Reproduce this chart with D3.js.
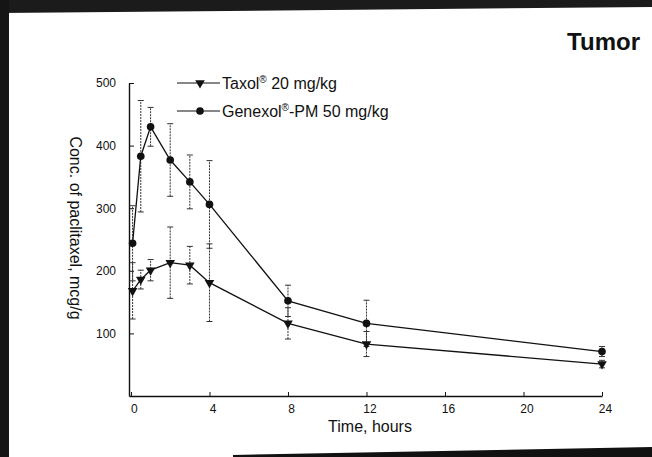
<!DOCTYPE html>
<html>
<head>
<meta charset="utf-8">
<script src="https://cdn.jsdelivr.net/npm/d3@7"></script>
<style>
  html, body { margin: 0; padding: 0; background: #fff; }
  svg { display: block; font-family: "Liberation Sans", Arial, sans-serif; }
</style>
</head>
<body>
<div id="chart"></div>
<script>
const w = 652;
const h = 457;

// sampling times (hours) and mean / SD of paclitaxel in tumor (mcg/g)
const times = [0.083, 0.5, 1, 2, 3, 4, 8, 12, 24];
const taxolMean = [168, 186, 201, 213, 209, 181, 116, 83, 51];
const taxolSD = [45, 15, 17, 57, 30, 62, 25, 20, 6];
const genexolMean = [244, 383, 430, 377, 342, 306, 152, 116, 71];
const genexolSD = [60, 89, 31, 58, 43, 70, 25, 37, 8];

const xTicks = [0, 4, 8, 12, 16, 20, 24];
const yTicks = [100, 200, 300, 400, 500];

const seriesNames = ["Taxol", "Genexol"];
const seriesDose = [" 20 mg/kg", "-PM 50 mg/kg"];

const svg = d3.select("#chart").append("svg").attr("width", w).attr("height", h);

//scanned page edges
svg.append("rect").attr("width", w).attr("height", h).attr("fill", "#fff");
svg.append("path").attr("d", "M0,0H652V7L0,13Z").attr("fill", "#1b1b1b");
svg.append("rect").attr("x", 0).attr("y", 0).attr("width", 9).attr("height", h).attr("fill", "#151515");
svg.append("path").attr("d", "M233,457V455L652,447V457Z").attr("fill", "#111");

const x = d3.scaleLinear().domain([-0.1, 24]).range([129, 602]);
const y = d3.scaleLinear().domain([0, 500]).range([396, 83]);

const data = seriesNames.map((name, s) => {
  const mean = s === 0 ? taxolMean : genexolMean;
  const sd = s === 0 ? taxolSD : genexolSD;
  return times.map((t, i) => ({ t: t, v: mean[i], sd: sd[i] }));
});

//Axes
const xAxis = d3.axisBottom(x).tickValues(xTicks).tickSize(-4).tickSizeOuter(0).tickPadding(8);
const yAxis = d3.axisLeft(y).tickValues(yTicks).tickSize(-5).tickSizeOuter(0).tickPadding(13);

const gx = svg.append("g").attr("transform", `translate(0, ${y(0)})`).call(xAxis);
const gy = svg.append("g").attr("transform", `translate(${x(-0.1)}, 0)`).call(yAxis);

[gx, gy].forEach((g) => {
  g.select(".domain").attr("stroke", "#111").attr("stroke-width", 1.4);
  g.selectAll(".tick line").attr("stroke", "#111");
  g.selectAll(".tick text").attr("fill", "#111").style("font-size", "12px");
});
gx.selectAll(".tick text").attr("dx", 3);

svg.append("text")
  .attr("x", 370).attr("y", 432)
  .attr("text-anchor", "middle")
  .style("font-size", "16px").attr("fill", "#111")
  .text("Time, hours");

svg.append("text")
  .attr("transform", "translate(70, 228) rotate(90)")
  .attr("text-anchor", "middle")
  .style("font-size", "16px").attr("fill", "#111")
  .text("Conc. of paclitaxel,  mcg/g");

svg.append("text")
  .attr("x", 640).attr("y", 50)
  .attr("text-anchor", "end")
  .style("font-size", "24px").style("font-weight", "bold").attr("fill", "#111")
  .text("Tumor");

//Error bars
data.forEach((pts) => {
  const g = svg.append("g").attr("stroke", "#333").attr("stroke-width", 1);
  g.selectAll("line.bar")
    .data(pts).enter().append("line")
    .attr("x1", (d) => x(d.t)).attr("x2", (d) => x(d.t))
    .attr("y1", (d) => y(d.v - d.sd)).attr("y2", (d) => y(d.v + d.sd))
    .attr("stroke-dasharray", "2,1");
  g.selectAll("line.capTop")
    .data(pts).enter().append("line")
    .attr("x1", (d) => x(d.t) - 3).attr("x2", (d) => x(d.t) + 3)
    .attr("y1", (d) => y(d.v + d.sd)).attr("y2", (d) => y(d.v + d.sd));
  g.selectAll("line.capBottom")
    .data(pts).enter().append("line")
    .attr("x1", (d) => x(d.t) - 3).attr("x2", (d) => x(d.t) + 3)
    .attr("y1", (d) => y(d.v - d.sd)).attr("y2", (d) => y(d.v - d.sd));
});

//Lines and markers
const line = d3.line().x((d) => x(d.t)).y((d) => y(d.v));
const symbols = [
  d3.symbol(d3.symbolTriangle).size(40),
  d3.symbol(d3.symbolCircle).size(46),
];
const symbolRotate = [180, 0];

data.forEach((pts, s) => {
  svg.append("path")
    .datum(pts)
    .attr("d", line)
    .attr("fill", "none")
    .attr("stroke", "#111")
    .attr("stroke-width", 1.3);
  svg.selectAll(null)
    .data(pts).enter().append("path")
    .attr("d", symbols[s])
    .attr("fill", "#111")
    .attr("transform", (d) => `translate(${x(d.t)}, ${y(d.v)}) rotate(${symbolRotate[s]})`);
});

//Legend
const legendY = [83, 111];
seriesNames.forEach((name, s) => {
  const g = svg.append("g").attr("transform", `translate(0, ${legendY[s]})`);
  g.append("line").attr("x1", 177).attr("x2", 220).attr("stroke", "#111").attr("stroke-width", 1.2);
  g.append("path").attr("d", symbols[s]).attr("fill", "#111")
    .attr("transform", `translate(200, 0) rotate(${symbolRotate[s]})`);
  const t = g.append("text").attr("x", 222).attr("y", 6).style("font-size", "16px").attr("fill", "#111");
  t.append("tspan").text(name);
  t.append("tspan").attr("dy", -6).style("font-size", "10px").text("®");
  t.append("tspan").attr("dy", 6).text(seriesDose[s]);
});
</script>
</body>
</html>
